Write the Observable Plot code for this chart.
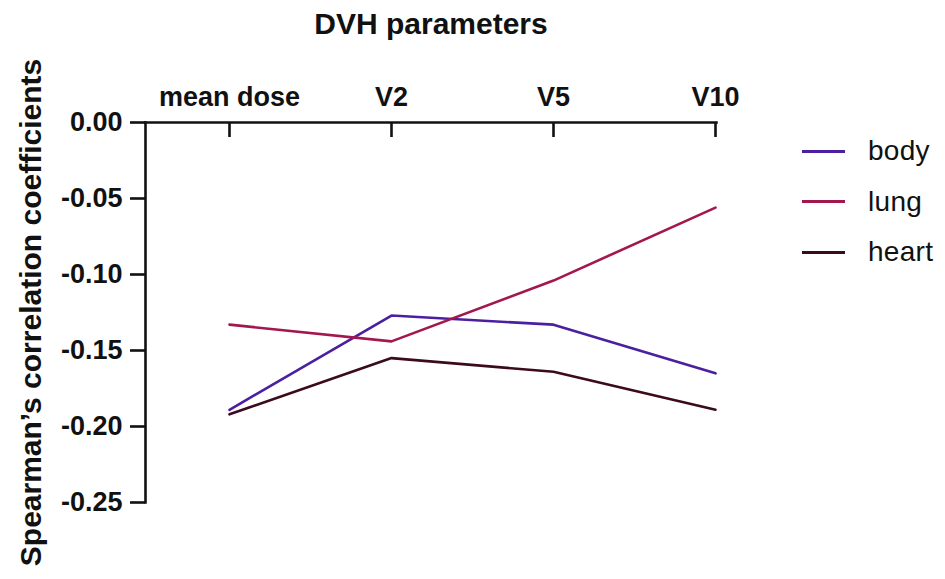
<!DOCTYPE html>
<html>
<head>
<meta charset="utf-8">
<script src="https://cdn.jsdelivr.net/npm/d3@7"></script>
<script src="https://cdn.jsdelivr.net/npm/@observablehq/plot@0.6"></script>
<style>
  html, body { margin: 0; padding: 0; background: #fff; }
  #wrap { position: relative; width: 945px; height: 579px; font-family: "Liberation Sans", Arial, sans-serif; }
  #legend { position: absolute; left: 802px; top: 126px; }
  .row { display: flex; align-items: center; height: 50.5px; font-size: 28px; color: #111; letter-spacing: 0.3px; }
  .sw { width: 43px; height: 3px; margin-right: 23px; }
</style>
</head>
<body>
<div id="wrap"></div>
<script>
const categories = ["mean dose", "V2", "V5", "V10"];
const seriesNames = ["body", "lung", "heart"];
const bodyValues  = [-0.189, -0.127, -0.133, -0.165];
const lungValues  = [-0.133, -0.144, -0.104, -0.056];
const heartValues = [-0.192, -0.155, -0.164, -0.189];
const yTicks = [0, -0.05, -0.10, -0.15, -0.20, -0.25];
const colors = ["#4a1fa0", "#a3174f", "#3b0a1c"];

const valuesBySeries = [bodyValues, lungValues, heartValues];
const data = seriesNames.flatMap((s, i) =>
  categories.map((c, j) => ({series: s, cat: c, value: valuesBySeries[i][j]})));

const chart = Plot.plot({
  width: 945,
  height: 579,
  marginLeft: 145,
  marginRight: 229,
  marginTop: 122,
  marginBottom: 77,
  style: {fontFamily: "'Liberation Sans', Arial, sans-serif", fontSize: "27px", fontWeight: "bold", color: "#111", background: "#fff"},
  x: {type: "point", domain: categories, range: [228, 716], padding: 0},
  y: {domain: [-0.25, 0]},
  color: {domain: seriesNames, range: colors},
  marks: [
    Plot.frame({anchor: "left", stroke: "#111", strokeWidth: 2.6}),
    Plot.frame({anchor: "top", stroke: "#111", strokeWidth: 2.6}),
    Plot.ruleX(categories, {x: d => d, stroke: "#111", strokeWidth: 2.6, insetBottom: 365}),
    Plot.axisY({ticks: yTicks, tickFormat: d => d.toFixed(2), tickSize: 15, tickPadding: 8, strokeWidth: 2.6,
      fontSize: 27, fontWeight: "bold", label: null}),
    Plot.axisY({ticks: [], tickSize: 0,
      label: "Spearman\u2019s correlation coefficients", labelAnchor: "center", labelOffset: 126, labelArrow: "none",
      fontSize: 30, fontWeight: "bold"}),
    Plot.axisX({anchor: "top", tickSize: 0, tickPadding: 17, label: null,
      fontSize: 27, fontWeight: "bold"}),
    Plot.axisX({anchor: "top", ticks: [], tickSize: 0,
      label: "DVH parameters", labelAnchor: "center", labelOffset: 110, labelArrow: "none",
      fontSize: 30, fontWeight: "bold"}),
    Plot.line(data, {x: "cat", y: "value", z: "series", stroke: "series", strokeWidth: 2.6})
  ]
});
const wrap = document.getElementById("wrap");
wrap.appendChild(chart);

const legend = document.createElement("div");
legend.id = "legend";
seriesNames.forEach((s, i) => {
  const row = document.createElement("div");
  row.className = "row";
  const sw = document.createElement("span");
  sw.className = "sw";
  sw.style.background = colors[i];
  const t = document.createElement("span");
  t.textContent = s;
  row.appendChild(sw);
  row.appendChild(t);
  legend.appendChild(row);
});
wrap.appendChild(legend);
</script>
</body>
</html>
